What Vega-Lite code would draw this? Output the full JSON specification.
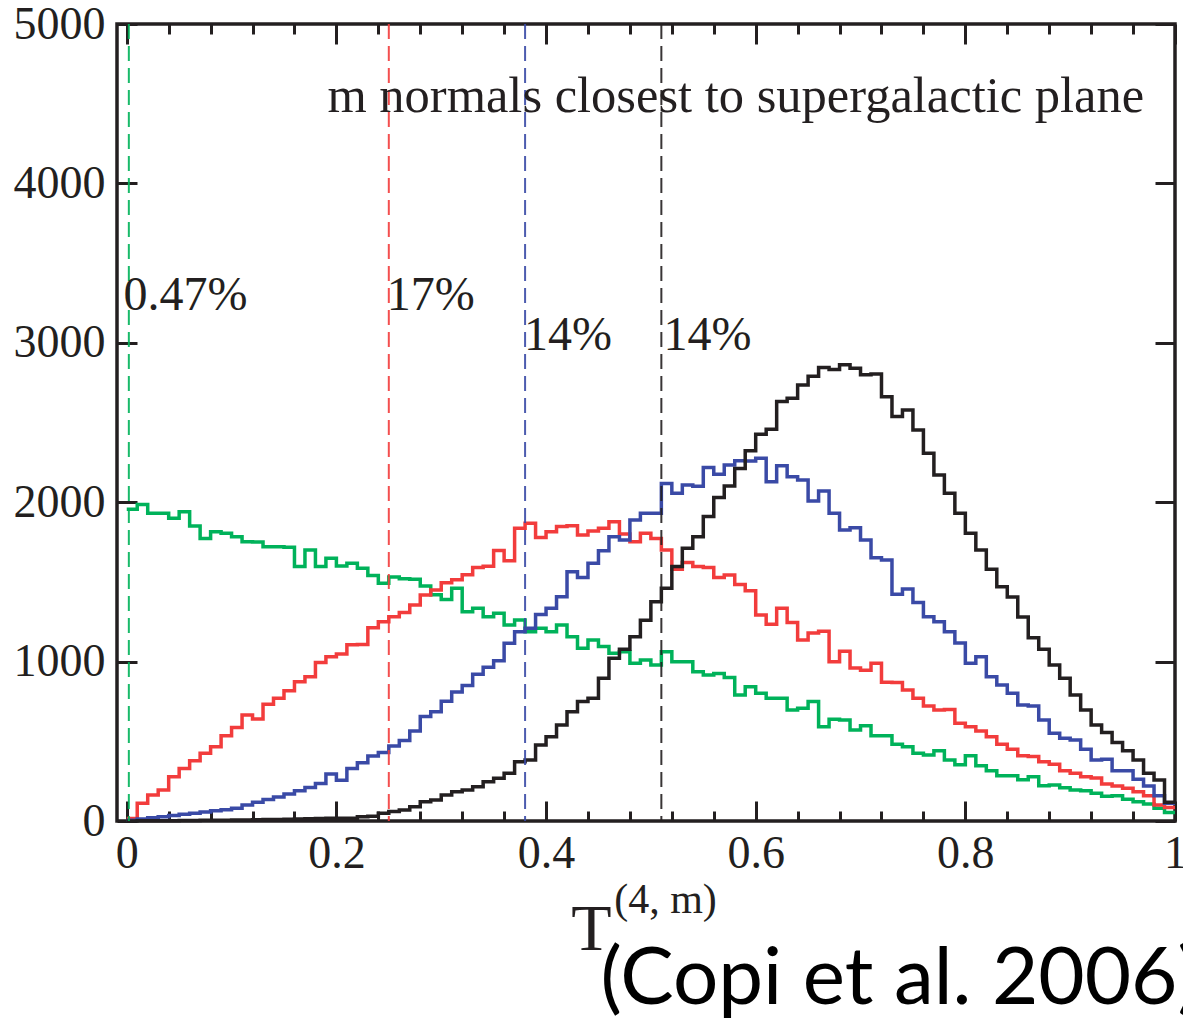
{
  "$schema": "https://vega.github.io/schema/vega-lite/v6.json",
  "width": 1058,
  "height": 797,
  "autosize": {"type": "none"},
  "padding": {"left": 117, "top": 24, "right": 8, "bottom": 203},
  "background": "white",
  "config": {
    "view": {"stroke": "#231f20", "strokeWidth": 3.5},
    "axis": {"grid": false, "domain": false, "title": null, "tickColor": "#231f20", "tickWidth": 3, "labelColor": "#231f20", "labelFont": "Liberation Serif", "labelFontSize": 46, "labelFlush": false, "labelOverlap": false}
  },
  "datasets": {
    "hist": [
      {"lo":0.00,"hi":0.01,"m1":1955,"m2":15,"m3":5,"m4":0},
      {"lo":0.01,"hi":0.02,"m1":1985,"m2":111,"m3":12,"m4":1},
      {"lo":0.02,"hi":0.03,"m1":1930,"m2":163,"m3":20,"m4":1},
      {"lo":0.03,"hi":0.04,"m1":1930,"m2":194,"m3":27,"m4":2},
      {"lo":0.04,"hi":0.05,"m1":1900,"m2":278,"m3":35,"m4":2},
      {"lo":0.05,"hi":0.06,"m1":1940,"m2":330,"m3":42,"m4":3},
      {"lo":0.06,"hi":0.07,"m1":1850,"m2":378,"m3":48,"m4":3},
      {"lo":0.07,"hi":0.08,"m1":1773,"m2":425,"m3":56,"m4":4},
      {"lo":0.08,"hi":0.09,"m1":1815,"m2":466,"m3":64,"m4":5},
      {"lo":0.09,"hi":0.10,"m1":1805,"m2":535,"m3":70,"m4":5},
      {"lo":0.10,"hi":0.11,"m1":1784,"m2":587,"m3":80,"m4":6},
      {"lo":0.11,"hi":0.12,"m1":1752,"m2":665,"m3":100,"m4":7},
      {"lo":0.12,"hi":0.13,"m1":1750,"m2":640,"m3":118,"m4":8},
      {"lo":0.13,"hi":0.14,"m1":1721,"m2":733,"m3":135,"m4":9},
      {"lo":0.14,"hi":0.15,"m1":1720,"m2":770,"m3":150,"m4":10},
      {"lo":0.15,"hi":0.16,"m1":1718,"m2":817,"m3":170,"m4":11},
      {"lo":0.16,"hi":0.17,"m1":1596,"m2":874,"m3":190,"m4":12},
      {"lo":0.17,"hi":0.18,"m1":1700,"m2":905,"m3":210,"m4":14},
      {"lo":0.18,"hi":0.19,"m1":1596,"m2":994,"m3":235,"m4":15},
      {"lo":0.19,"hi":0.20,"m1":1648,"m2":1031,"m3":295,"m4":17},
      {"lo":0.20,"hi":0.21,"m1":1600,"m2":1048,"m3":255,"m4":17},
      {"lo":0.21,"hi":0.22,"m1":1617,"m2":1105,"m3":330,"m4":18},
      {"lo":0.22,"hi":0.23,"m1":1585,"m2":1108,"m3":365,"m4":27},
      {"lo":0.23,"hi":0.24,"m1":1540,"m2":1212,"m3":408,"m4":30},
      {"lo":0.24,"hi":0.25,"m1":1491,"m2":1250,"m3":430,"m4":48},
      {"lo":0.25,"hi":0.26,"m1":1530,"m2":1282,"m3":470,"m4":59},
      {"lo":0.26,"hi":0.27,"m1":1520,"m2":1308,"m3":505,"m4":69},
      {"lo":0.27,"hi":0.28,"m1":1516,"m2":1355,"m3":565,"m4":90},
      {"lo":0.28,"hi":0.29,"m1":1475,"m2":1418,"m3":655,"m4":121},
      {"lo":0.29,"hi":0.30,"m1":1420,"m2":1449,"m3":685,"m4":132},
      {"lo":0.30,"hi":0.31,"m1":1390,"m2":1495,"m3":752,"m4":163},
      {"lo":0.31,"hi":0.32,"m1":1460,"m2":1514,"m3":810,"m4":184},
      {"lo":0.32,"hi":0.33,"m1":1313,"m2":1545,"m3":850,"m4":194},
      {"lo":0.33,"hi":0.34,"m1":1334,"m2":1590,"m3":920,"m4":215},
      {"lo":0.34,"hi":0.35,"m1":1282,"m2":1598,"m3":965,"m4":247},
      {"lo":0.35,"hi":0.36,"m1":1303,"m2":1697,"m3":1005,"m4":268},
      {"lo":0.36,"hi":0.37,"m1":1230,"m2":1632,"m3":1115,"m4":299},
      {"lo":0.37,"hi":0.38,"m1":1261,"m2":1836,"m3":1188,"m4":372},
      {"lo":0.38,"hi":0.39,"m1":1188,"m2":1868,"m3":1209,"m4":383},
      {"lo":0.39,"hi":0.40,"m1":1210,"m2":1778,"m3":1295,"m4":477},
      {"lo":0.40,"hi":0.41,"m1":1188,"m2":1815,"m3":1334,"m4":529},
      {"lo":0.41,"hi":0.42,"m1":1230,"m2":1847,"m3":1407,"m4":602},
      {"lo":0.42,"hi":0.43,"m1":1156,"m2":1852,"m3":1564,"m4":686},
      {"lo":0.43,"hi":0.44,"m1":1083,"m2":1794,"m3":1528,"m4":749},
      {"lo":0.44,"hi":0.45,"m1":1136,"m2":1820,"m3":1617,"m4":770},
      {"lo":0.45,"hi":0.46,"m1":1094,"m2":1836,"m3":1695,"m4":895},
      {"lo":0.46,"hi":0.47,"m1":1052,"m2":1878,"m3":1784,"m4":1021},
      {"lo":0.47,"hi":0.48,"m1":1062,"m2":1800,"m3":1763,"m4":1078},
      {"lo":0.48,"hi":0.49,"m1":989,"m2":1752,"m3":1888,"m4":1156},
      {"lo":0.49,"hi":0.50,"m1":1010,"m2":1805,"m3":1930,"m4":1260},
      {"lo":0.50,"hi":0.51,"m1":979,"m2":1773,"m3":1930,"m4":1376},
      {"lo":0.51,"hi":0.52,"m1":1062,"m2":1700,"m3":2118,"m4":1460},
      {"lo":0.52,"hi":0.53,"m1":999,"m2":1580,"m3":2056,"m4":1596},
      {"lo":0.53,"hi":0.54,"m1":999,"m2":1622,"m3":2108,"m4":1711},
      {"lo":0.54,"hi":0.55,"m1":937,"m2":1596,"m3":2100,"m4":1784},
      {"lo":0.55,"hi":0.56,"m1":916,"m2":1590,"m3":2218,"m4":1910},
      {"lo":0.56,"hi":0.57,"m1":926,"m2":1528,"m3":2176,"m4":2030},
      {"lo":0.57,"hi":0.58,"m1":900,"m2":1543,"m3":2233,"m4":2102},
      {"lo":0.58,"hi":0.59,"m1":790,"m2":1483,"m3":2260,"m4":2212},
      {"lo":0.59,"hi":0.60,"m1":843,"m2":1445,"m3":2258,"m4":2322},
      {"lo":0.60,"hi":0.61,"m1":801,"m2":1292,"m3":2275,"m4":2427},
      {"lo":0.61,"hi":0.62,"m1":770,"m2":1235,"m3":2129,"m4":2458},
      {"lo":0.62,"hi":0.63,"m1":770,"m2":1334,"m3":2228,"m4":2631},
      {"lo":0.63,"hi":0.64,"m1":696,"m2":1245,"m3":2160,"m4":2652},
      {"lo":0.64,"hi":0.65,"m1":707,"m2":1136,"m3":2139,"m4":2735},
      {"lo":0.65,"hi":0.66,"m1":749,"m2":1180,"m3":2008,"m4":2790},
      {"lo":0.66,"hi":0.67,"m1":592,"m2":1190,"m3":2070,"m4":2845},
      {"lo":0.67,"hi":0.68,"m1":639,"m2":999,"m3":1930,"m4":2832},
      {"lo":0.68,"hi":0.69,"m1":634,"m2":1065,"m3":1826,"m4":2862},
      {"lo":0.69,"hi":0.70,"m1":571,"m2":960,"m3":1840,"m4":2840},
      {"lo":0.70,"hi":0.71,"m1":597,"m2":945,"m3":1763,"m4":2800},
      {"lo":0.71,"hi":0.72,"m1":535,"m2":989,"m3":1652,"m4":2805},
      {"lo":0.72,"hi":0.73,"m1":535,"m2":870,"m3":1637,"m4":2662},
      {"lo":0.73,"hi":0.74,"m1":482,"m2":869,"m3":1423,"m4":2537},
      {"lo":0.74,"hi":0.75,"m1":466,"m2":822,"m3":1455,"m4":2578},
      {"lo":0.75,"hi":0.76,"m1":425,"m2":770,"m3":1371,"m4":2453},
      {"lo":0.76,"hi":0.77,"m1":414,"m2":722,"m3":1282,"m4":2307},
      {"lo":0.77,"hi":0.78,"m1":440,"m2":696,"m3":1250,"m4":2171},
      {"lo":0.78,"hi":0.79,"m1":383,"m2":700,"m3":1188,"m4":2056},
      {"lo":0.79,"hi":0.80,"m1":353,"m2":614,"m3":1116,"m4":1930},
      {"lo":0.80,"hi":0.81,"m1":409,"m2":592,"m3":989,"m4":1805},
      {"lo":0.81,"hi":0.82,"m1":346,"m2":565,"m3":1031,"m4":1700},
      {"lo":0.82,"hi":0.83,"m1":315,"m2":529,"m3":905,"m4":1580},
      {"lo":0.83,"hi":0.84,"m1":284,"m2":482,"m3":853,"m4":1470},
      {"lo":0.84,"hi":0.85,"m1":284,"m2":450,"m3":801,"m4":1405},
      {"lo":0.85,"hi":0.86,"m1":259,"m2":409,"m3":728,"m4":1280},
      {"lo":0.86,"hi":0.87,"m1":278,"m2":404,"m3":722,"m4":1150},
      {"lo":0.87,"hi":0.88,"m1":221,"m2":372,"m3":634,"m4":1078},
      {"lo":0.88,"hi":0.89,"m1":226,"m2":356,"m3":550,"m4":978},
      {"lo":0.89,"hi":0.90,"m1":208,"m2":315,"m3":519,"m4":895},
      {"lo":0.90,"hi":0.91,"m1":194,"m2":300,"m3":508,"m4":790},
      {"lo":0.91,"hi":0.92,"m1":189,"m2":278,"m3":450,"m4":696},
      {"lo":0.92,"hi":0.93,"m1":174,"m2":270,"m3":383,"m4":602},
      {"lo":0.93,"hi":0.94,"m1":155,"m2":232,"m3":388,"m4":555},
      {"lo":0.94,"hi":0.95,"m1":158,"m2":220,"m3":315,"m4":492},
      {"lo":0.95,"hi":0.96,"m1":137,"m2":205,"m3":315,"m4":440},
      {"lo":0.96,"hi":0.97,"m1":121,"m2":184,"m3":262,"m4":383},
      {"lo":0.97,"hi":0.98,"m1":106,"m2":158,"m3":220,"m4":299},
      {"lo":0.98,"hi":0.99,"m1":80,"m2":100,"m3":158,"m4":257},
      {"lo":0.99,"hi":1.00,"m1":54,"m2":85,"m3":111,"m4":118}
    ],
    "cuts": [
      {"t": 0.002, "series": "m1"},
      {"t": 0.25, "series": "m2"},
      {"t": 0.38, "series": "m3"},
      {"t": 0.51, "series": "m4"}
    ],
    "notes": [
      {"t": -0.003, "y": 3206, "label": "0.47%"},
      {"t": 0.248, "y": 3206, "label": "17%"},
      {"t": 0.379, "y": 2955, "label": "14%"},
      {"t": 0.512, "y": 2955, "label": "14%"}
    ]
  },
  "layer": [
    {
      "data": {"name": "hist"},
      "transform": [
        {"fold": ["m1", "m2", "m3", "m4"], "as": ["series", "count"]},
        {"fold": ["lo", "hi"], "as": ["edge", "t"]}
      ],
      "mark": {"type": "line", "strokeWidth": 3.5, "strokeJoin": "miter", "strokeCap": "butt"},
      "encoding": {
        "x": {
          "field": "t", "type": "quantitative",
          "scale": {"domain": [-0.0093, 1], "nice": false, "zero": false},
          "axis": {"orient": "bottom", "values": [0, 0.2, 0.4, 0.6, 0.8, 1], "format": "~g", "tickSize": -20, "labelPadding": 30}
        },
        "y": {
          "field": "count", "type": "quantitative",
          "scale": {"domain": [0, 5000], "nice": false},
          "axis": {"orient": "left", "values": [0, 1000, 2000, 3000, 4000, 5000], "format": "d", "tickSize": -20, "labelPadding": 32}
        },
        "color": {
          "field": "series", "type": "nominal",
          "scale": {"domain": ["m1", "m2", "m3", "m4"], "range": ["#00b25a", "#f23c3c", "#3a4aa6", "#231f20"]},
          "legend": null
        },
        "order": [
          {"field": "lo", "type": "quantitative"},
          {"field": "edge", "type": "nominal", "sort": "descending"}
        ]
      }
    },
    {
      "data": {"name": "cuts"},
      "mark": {"type": "rule", "strokeDash": [15, 7], "strokeWidth": 2, "opacity": 0.9},
      "encoding": {
        "x": {
          "field": "t", "type": "quantitative",
          "axis": {"orient": "top", "values": [0, 0.2, 0.4, 0.6, 0.8, 1], "tickSize": -20, "labels": false}
        },
        "color": {"field": "series", "type": "nominal", "legend": null}
      }
    },
    {
      "data": {"name": "notes"},
      "mark": {"type": "text", "font": "Liberation Serif", "fontSize": 48, "align": "left", "baseline": "alphabetic", "color": "#231f20"},
      "encoding": {
        "x": {
          "field": "t", "type": "quantitative",
          "axis": {"orient": "bottom", "values": [0.04, 0.08, 0.12, 0.16, 0.24, 0.28, 0.32, 0.36, 0.44, 0.48, 0.52, 0.56, 0.64, 0.68, 0.72, 0.76, 0.84, 0.88, 0.92, 0.96], "tickSize": -10, "labels": false}
        },
        "y": {
          "field": "y", "type": "quantitative",
          "axis": {"orient": "right", "values": [0, 1000, 2000, 3000, 4000, 5000], "tickSize": -20, "labels": false}
        },
        "text": {"field": "label"}
      }
    },
    {
      "data": {"values": [{}]},
      "mark": {"type": "text", "text": "m normals closest to supergalactic plane", "font": "Liberation Serif", "fontSize": 50.5, "align": "center", "baseline": "alphabetic", "color": "#231f20"},
      "encoding": {
        "x": {
          "datum": 0.581, "type": "quantitative",
          "axis": {"orient": "top", "values": [0.04, 0.08, 0.12, 0.16, 0.24, 0.28, 0.32, 0.36, 0.44, 0.48, 0.52, 0.56, 0.64, 0.68, 0.72, 0.76, 0.84, 0.88, 0.92, 0.96], "tickSize": -10, "labels": false}
        },
        "y": {"datum": 4450, "type": "quantitative", "axis": null}
      }
    },
    {
      "data": {"values": [{}]},
      "mark": {"type": "text", "text": "T", "font": "Liberation Serif", "fontSize": 66, "align": "left", "baseline": "alphabetic", "color": "#231f20"},
      "encoding": {
        "x": {"datum": 0.424, "type": "quantitative", "axis": null},
        "y": {"datum": -809, "type": "quantitative", "axis": null}
      }
    },
    {
      "data": {"values": [{}]},
      "mark": {"type": "text", "text": "(4, m)", "font": "Liberation Serif", "fontSize": 42, "align": "left", "baseline": "alphabetic", "color": "#231f20"},
      "encoding": {
        "x": {"datum": 0.465, "type": "quantitative", "axis": null},
        "y": {"datum": -577, "type": "quantitative", "axis": null}
      }
    },
    {
      "data": {"values": [{}]},
      "mark": {"type": "text", "text": "(Copi et al. 2006)", "font": "Lato", "fontSize": 80, "align": "left", "baseline": "alphabetic", "color": "#000000"},
      "encoding": {
        "x": {"datum": 0.452, "type": "quantitative", "axis": null},
        "y": {"datum": -1148, "type": "quantitative", "axis": null}
      }
    }
  ],
  "resolve": {"axis": {"x": "independent", "y": "independent"}}
}
